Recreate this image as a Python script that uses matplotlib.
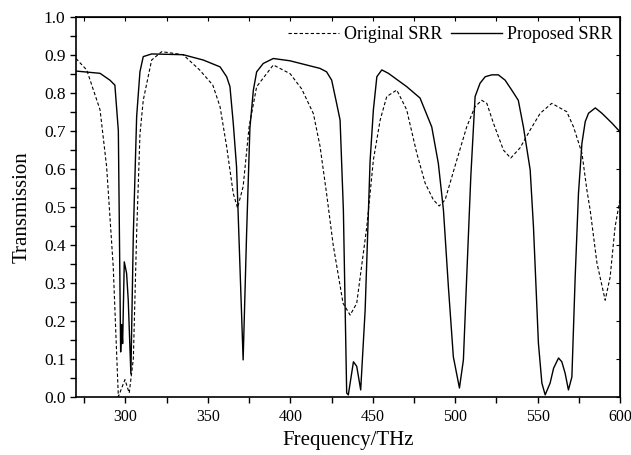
import numpy as np
import matplotlib.pyplot as plt
from matplotlib.ticker import MultipleLocator

plt.rcParams['font.family'] = ['Liberation Serif', 'DejaVu Serif']

# Original SRR (dashed)
f_orig = [270, 276.5, 284.6, 288.6, 292.6, 295.7, 299.7, 302.3, 304.8, 306.8, 308.8,
          310.8, 315.9, 322, 335, 345, 353, 357.4, 361.4, 365.4, 368, 371.4, 375,
          379.6, 389.7, 399.9, 406.9, 414, 418, 422, 426, 432, 436.3, 440.3, 446.4,
          450.4, 454.5, 458.5, 464.6, 470.6, 476.7, 481.8, 486.8, 490.3, 493.9, 501,
          507, 512, 516.1, 519.2, 523.2, 529.3, 533.7, 539.4, 545.5, 551.6, 558.6,
          567.7, 571.8, 576.9, 579.9, 581.9, 586, 591, 594, 597, 600]
t_orig = [0.89, 0.86, 0.755, 0.605, 0.342, 0.0, 0.045, 0.01, 0.1, 0.43, 0.69,
          0.78, 0.886, 0.908, 0.9, 0.86, 0.82, 0.763, 0.658, 0.535, 0.497, 0.553, 0.71,
          0.816, 0.873, 0.85, 0.81, 0.745, 0.66, 0.535, 0.40, 0.246, 0.215, 0.246, 0.447,
          0.623, 0.728, 0.79, 0.807, 0.755, 0.641, 0.562, 0.518, 0.502, 0.518, 0.623,
          0.71, 0.763, 0.78, 0.772, 0.72, 0.649, 0.628, 0.655, 0.702, 0.746, 0.772,
          0.75, 0.71, 0.641, 0.544, 0.491, 0.352, 0.254, 0.315, 0.447, 0.52]

# Proposed SRR (solid)
f_prop = [270, 284.6, 290.6, 293.6, 295.7, 297.1, 297.7, 298.3, 299.3, 300.7, 301.7,
          303.3, 304.8, 306.8, 308.8, 310.8, 315.9, 335, 347.2, 357.4, 361.4, 363.4,
          365.4, 367.4, 371.4, 373.5, 375.5, 377.6, 379.6, 383.6, 389.7, 399.8, 418,
          422, 425.1, 428.1, 430.2, 432.2, 434.2, 435.2, 438.3, 440.3, 442.7, 445.4,
          448.4, 450.4, 452.5, 455.5, 459.5, 470.6, 478.7, 485.8, 489.8, 492.9, 495.9,
          498.9, 502.6, 505, 507, 509.5, 512.1, 515.1, 518.2, 522.2, 526.2, 530.3,
          534.3, 538.3, 541.4, 545.5, 547.5, 550.5, 552.6, 554.6, 557.6, 559.7, 562.7,
          564.7, 566.7, 568.7, 570.8, 572.8, 574.8, 576.9, 578.9, 580.9, 585, 589,
          595.1, 600]
t_prop = [0.857, 0.851, 0.833, 0.82, 0.70, 0.118, 0.19, 0.14, 0.355, 0.325, 0.255,
          0.06, 0.43, 0.737, 0.855, 0.895, 0.902, 0.9, 0.886, 0.868, 0.842, 0.816,
          0.72, 0.605, 0.097, 0.43, 0.707, 0.807, 0.855, 0.877, 0.89, 0.884, 0.864,
          0.855, 0.833, 0.772, 0.728, 0.491, 0.01, 0.005, 0.092, 0.08, 0.018, 0.228,
          0.62, 0.755, 0.842, 0.86, 0.851, 0.816, 0.786, 0.71, 0.614, 0.491, 0.289,
          0.105, 0.023, 0.097, 0.315, 0.58, 0.79, 0.825, 0.842, 0.847, 0.847, 0.833,
          0.807, 0.78, 0.71, 0.597, 0.447, 0.141, 0.036, 0.005, 0.036, 0.075, 0.102,
          0.092, 0.062, 0.018, 0.052, 0.315, 0.535, 0.667, 0.724, 0.746, 0.76, 0.746,
          0.72, 0.697]

fig = plt.figure(figsize=(6.31, 4.55), dpi=100)
ax = fig.add_axes([0.1204, 0.128, 0.8622, 0.8353])

ax.plot(f_orig, t_orig, color='black', lw=0.8, dashes=(3, 2), label='Original SRR')
ax.plot(f_prop, t_prop, color='black', lw=1.0, label='Proposed SRR')

ax.set_xlim(270, 600)
ax.set_ylim(0, 1.0)
ax.xaxis.set_major_locator(MultipleLocator(50))
ax.xaxis.set_minor_locator(MultipleLocator(25))
ax.yaxis.set_major_locator(MultipleLocator(0.1))
ax.yaxis.set_minor_locator(MultipleLocator(0.05))
ax.yaxis.set_major_formatter(plt.FormatStrFormatter('%.1f'))
ax.tick_params(which='both', direction='out', length=4, width=1, labelsize=12.5)
ax.tick_params(axis='x', pad=5, labelsize=11.5)

top = ax.secondary_xaxis('top')
top.xaxis.set_major_locator(MultipleLocator(25))
top.tick_params(direction='in', length=3, labeltop=False)
right = ax.secondary_yaxis('right')
right.yaxis.set_major_locator(MultipleLocator(0.1))
right.tick_params(direction='in', length=3, labelright=False)

for s in ax.spines.values():
    s.set_linewidth(1.2)

ax.set_xlabel('Frequency/THz', fontsize=15, labelpad=4)
ax.set_ylabel('Transmission', fontsize=15, labelpad=9)

ax.legend(loc='upper right', ncol=2, frameon=False, fontsize=13, handlelength=2.8,
          handletextpad=0.3, columnspacing=0.5, borderaxespad=0.0,
          bbox_to_anchor=(1.0, 0.995))

fig.savefig('out.png', dpi=100)
